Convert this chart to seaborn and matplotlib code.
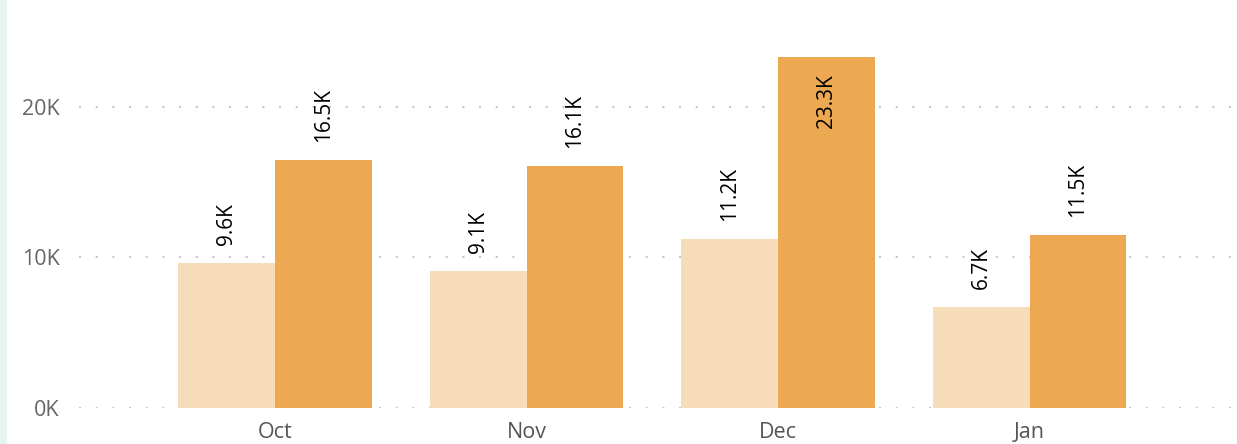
import pandas as pd
import seaborn as sns
import matplotlib.pyplot as plt
from matplotlib.patches import Rectangle
from matplotlib.ticker import FuncFormatter

months = ["Oct", "Nov", "Dec", "Jan"]
series_names = ["Prior", "Current"]
prior_values = [9600, 9100, 11200, 6700]
current_values = [16500, 16100, 23300, 11500]
y_ticks = [0, 10000, 20000]
colors = ["#F6DCB9", "#ECA951"]

rows = []
for m, a, b in zip(months, prior_values, current_values):
    rows.append([m, series_names[0], a])
    rows.append([m, series_names[1], b])
df = pd.DataFrame(rows, columns=["month", "series", "value"])

sns.set_style("white")
plt.rcParams["font.family"] = ["Open Sans", "DejaVu Sans"]

fig = plt.figure(figsize=(12.37, 4.44), dpi=100)
ax = fig.add_axes([79 / 1237, 36 / 444, 1 - 79 / 1237, 1 - 36 / 444])

# light strip on the left edge
fig.patches.append(Rectangle((0, 0), 6 / 1237, 1, transform=fig.transFigure,
                             color="#E8F4EF", zorder=0))

sns.barplot(data=df, x="month", y="value", hue="series", order=months,
            hue_order=series_names, palette=colors, width=0.77,
            saturation=1, legend=False, linewidth=0, ax=ax, zorder=3)

ymax = 27100
ax.set_ylim(0, ymax)
ax.set_xlim(-0.78, 3.825)
ax.set_yticks(y_ticks)
ax.yaxis.set_major_formatter(FuncFormatter(lambda v, p: f"{v / 1000:.0f}K"))
ax.grid(axis="y", color="#C8C8C8", linestyle=(0, (1, 7)), linewidth=1.5, zorder=0)
ax.grid(axis="x", visible=False)
for s in ax.spines.values():
    s.set_visible(False)
ax.tick_params(axis="y", length=0, pad=14, labelsize=15.5, labelcolor="#666666")
ax.tick_params(axis="x", length=0, pad=10, labelsize=15.5, labelcolor="#555555")
ax.set_xlabel("")
ax.set_ylabel("")

for cont in ax.containers:
    for bar in cont:
        h = bar.get_height()
        x = bar.get_x() + bar.get_width() / 2
        label = f"{h / 1000:.1f}K"
        if h > 0.78 * ymax:
            ax.annotate(label, (x, h), xytext=(0, -12), textcoords="offset points",
                        rotation=90, ha="center", va="top", fontsize=15, color="black",
                        zorder=5)
        else:
            ax.annotate(label, (x, h), xytext=(0, 13), textcoords="offset points",
                        rotation=90, ha="center", va="bottom", fontsize=15, color="black",
                        zorder=5)

fig.savefig("out.png", dpi=100)
